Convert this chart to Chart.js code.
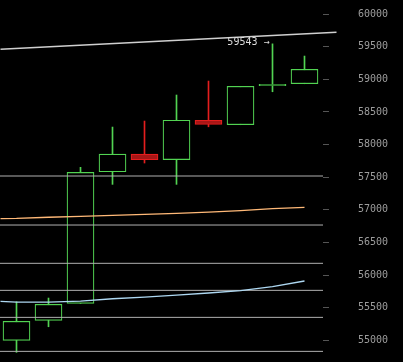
<!DOCTYPE html>
<html>
<head>
<meta charset="utf-8">
<script src="https://cdn.jsdelivr.net/npm/chart.js@4"></script>
<style>
  html, body { margin: 0; padding: 0; background: #000; }
  #wrap { width: 403px; height: 362px; position: relative; }
</style>
</head>
<body>
<div id="wrap"><canvas id="candleChart"></canvas></div>
<script>
// candles, one per slot
const slots = [0, 1, 2, 3, 4, 5, 6, 7, 8, 9];
const opens = [55000, 55306, 55567, 57583, 57855, 57770, 58373, 58304, 58901, 58932];
const highs = [55591, 55648, 57651, 58268, 58360, 58759, 58973, 58892, 59543, 59356];
const lows = [54816, 55208, 55567, 57390, 57717, 57390, 58272, 58304, 58809, 58932];
const closes = [55291, 55552, 57574, 57855, 57767, 58373, 58307, 58892, 58923, 59153];

// moving averages, sampled at the left edge and each candle
const maSlots = [-0.5, 0, 1, 2, 3, 4, 5, 6, 7, 8, 9];
const maSlow = [56866, 56869, 56886, 56900, 56915, 56931, 56946, 56966, 56989, 57017, 57038];
const maFast = [55598, 55584, 55584, 55602, 55637, 55663, 55694, 55725, 55763, 55824, 55909];

// horizontal levels and the trend line
const levels = [57518, 56767, 56180, 55766, 55352, 54831];
const trendSlots = [-0.5, 10];
const trendValues = [59460, 59720];

const yTicks = [55000, 55500, 56000, 56500, 57000, 57500, 58000, 58500, 59000, 59500, 60000];
const peakIndex = 8;

const green = "#52d352";
const red = "#e41e1e";
const redFill = "#a81616";

const isUp = slots.map((i) => closes[i] >= opens[i]);

const xMin = -0.515625;
const xMax = 9.578125;

const datasets = [
  {
    type: "line",
    data: trendSlots.map((x, i) => ({ x: x, y: trendValues[i] })),
    borderColor: "#cfcfcf",
    borderWidth: 1.5,
    pointRadius: 0,
    clip: false,
    order: -1,
  },
  {
    type: "line",
    data: maSlots.map((x, i) => ({ x: x, y: maSlow[i] })),
    borderColor: "#ffb978",
    borderWidth: 1.3,
    pointRadius: 0,
    order: -1,
  },
  {
    type: "line",
    data: maSlots.map((x, i) => ({ x: x, y: maFast[i] })),
    borderColor: "#aed8f2",
    borderWidth: 1.3,
    pointRadius: 0,
    order: -1,
  },
];

levels.forEach((v) => {
  datasets.push({
    type: "line",
    data: [{ x: xMin, y: v }, { x: xMax, y: v }],
    borderColor: "#b0b0b0",
    borderWidth: 1,
    pointRadius: 0,
    order: -1,
  });
});

// bodies
datasets.push({
  type: "bar",
  data: slots.map((i) => ({ x: i, y: [opens[i], closes[i]] })),
  backgroundColor: isUp.map((u) => (u ? "#000" : redFill)),
  borderColor: isUp.map((u) => (u ? green : red)),
  borderWidth: 1.2,
  borderSkipped: false,
  barThickness: 27,
  grouped: false,
  order: 1,
});

// wicks
datasets.push({
  type: "bar",
  data: slots.map((i) => ({ x: i, y: [lows[i], highs[i]] })),
  backgroundColor: isUp.map((u) => (u ? green : red)),
  borderWidth: 0,
  barThickness: 1,
  grouped: false,
  order: 2,
});

const peakLabel = {
  id: "peakLabel",
  afterDatasetsDraw(chart) {
    const x = chart.scales.x.getPixelForValue(peakIndex) - 3;
    const y = chart.scales.y.getPixelForValue(highs[peakIndex]);
    const ctx = chart.ctx;
    ctx.save();
    ctx.font = "10px 'DejaVu Sans Mono'";
    ctx.fillStyle = "#dcdcdc";
    ctx.textAlign = "right";
    ctx.textBaseline = "middle";
    ctx.fillText(highs[peakIndex] + " \u2192", x, y - 1);
    ctx.restore();
  },
};

new Chart(document.getElementById("candleChart"), {
  type: "bar",
  data: { datasets: datasets },
  plugins: [peakLabel],
  options: {
    responsive: true,
    maintainAspectRatio: false,
    animation: false,
    layout: { padding: 0 },
    scales: {
      x: {
        type: "linear",
        display: false,
        offset: false,
        min: xMin,
        max: xMax,
      },
      y: {
        position: "right",
        min: 54668,
        max: 60215,
        afterBuildTicks: function (scale) {
          scale.ticks = yTicks.map((v) => ({ value: v }));
        },
        afterFit: function (scale) {
          scale.width = 80;
          scale.paddingTop = 0;
          scale.paddingBottom = 0;
        },
        grid: {
          drawOnChartArea: false,
          tickLength: 6,
          color: "#555",
        },
        border: { display: false },
        ticks: {
          padding: 29,
          color: "#9c9c9c",
          font: { family: "DejaVu Sans Mono", size: 10 },
          callback: function (value) {
            return String(value);
          },
        },
      },
    },
    plugins: {
      legend: { display: false },
      tooltip: { enabled: false },
    },
  },
});
</script>
</body>
</html>
